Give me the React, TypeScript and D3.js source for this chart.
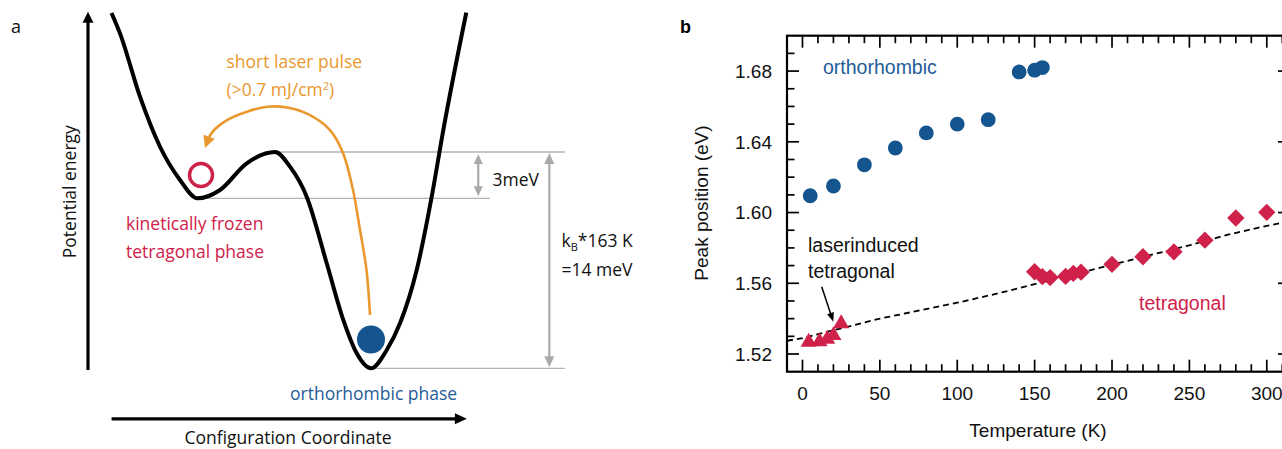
import React from 'react';
import * as d3 from 'd3';

// ---------- Panel b data ----------
const orthoT = [5, 20, 40, 60, 80, 100, 120, 140, 150, 155];
const orthoE = [1.6095, 1.615, 1.627, 1.6365, 1.645, 1.65, 1.6525, 1.6795, 1.6805, 1.682];
const tetraT = [150, 155, 160, 170, 175, 180, 200, 220, 240, 260, 280, 300];
const tetraE = [1.5665, 1.5638, 1.5632, 1.5639, 1.5656, 1.5663, 1.5707, 1.575, 1.5778, 1.5844, 1.5969, 1.6001];
const laserT = [4, 11, 16, 20, 25];
const laserE = [1.5268, 1.527, 1.5285, 1.5305, 1.5372];
const fitT = [-10, 0, 25, 50, 75, 100, 125, 150, 175, 200, 225, 250, 275, 300, 315];
const fitE = [1.5275, 1.529, 1.5345, 1.54, 1.5445, 1.549, 1.554, 1.5595, 1.565, 1.5705, 1.576, 1.5815, 1.5875, 1.5925, 1.595];
const xTickLabels = [0, 50, 100, 150, 200, 250, 300];
const yTickLabels = [1.52, 1.56, 1.6, 1.64, 1.68];

// ---------- Panel a data (schematic potential, meV) ----------
const potQ = [0.618, 0.842, 1.368, 1.895, 2.421, 2.882, 3.474, 4.176, 4.921, 5.316, 5.755, 6.282, 6.718, 7.071, 7.447, 7.861, 8.211, 8.65, 9.045, 9.35, 9.955];
const potE = [23.0, 21.68, 17.58, 14.34, 12.19, 11.0, 11.54, 13.27, 14.0, 13.05, 11.11, 6.8, 3.13, 0.97, 0, 1.18, 2.91, 6.36, 11.11, 15.42, 23.02];
const pulseQ = [7.421, 7.329, 7.158, 6.974, 6.711, 6.368, 5.842, 5.237, 4.711, 4.184, 3.658, 3.342, 3.184, 3.079];
const pulseE = [3.45, 6.36, 8.95, 11.54, 13.94, 15.42, 16.39, 16.88, 16.93, 16.61, 16.07, 15.49, 14.97, 14.26];
const barrier = 3; // meV
const depth = 14; // meV
const tetraState = { q: 2.974, E: 12.51 };
const orthoState = { q: 7.447, E: 1.864 };

const RED = '#cf2149';
const BLUE = '#14558f';
const BLUE_TXT = '#1f5c99';
const ORANGE = '#e9982e';
const GRAY = '#b2b2b2';
const GRAY_ARROW = '#a9a9a9';
const SANS_B = "'Liberation Sans', Arial, Helvetica, sans-serif";
const SANS_A = "'Open Sans', 'Noto Sans', sans-serif";

function head(x1: number, y1: number, x2: number, y2: number, len: number, wid: number) {
  const dx = x2 - x1, dy = y2 - y1;
  const L = Math.hypot(dx, dy);
  const ux = dx / L, uy = dy / L;
  const bx = x2 - ux * len, by = y2 - uy * len;
  const px = -uy, py = ux;
  return `${x2},${y2} ${bx + (px * wid) / 2},${by + (py * wid) / 2} ${bx - (px * wid) / 2},${by - (py * wid) / 2}`;
}

function PanelA() {
  const qx = d3.scaleLinear().domain([0, 10]).range([88, 468]);
  const ey = d3.scaleLinear().domain([0, 14]).range([368.3, 152]);
  const pot = d3.line<number>().x((_, i) => qx(potQ[i])).y((d) => ey(d)).curve(d3.curveMonotoneX)(potE) || '';
  const n = pulseQ.length;
  const pulse = d3
    .line<number>()
    .x((_, i) => qx(pulseQ[i]))
    .y((d) => ey(d))
    .curve(d3.curveCatmullRom)(pulseE.slice(0, n - 1)) || '';
  const pHead = head(qx(pulseQ[n - 2]), ey(pulseE[n - 2]), qx(pulseQ[n - 1]), ey(pulseE[n - 1]), 12, 12);

  const axX = qx(0);
  const axTop = ey(23.07);
  const axBot = ey(-0.11);
  const hY = ey(-3.27);
  const hL = qx(0.62);
  const hR = qx(9.97);

  const refRight = qx(12.55);
  const smallX = qx(10.27);
  const bigX = qx(12.14);
  const yTop = ey(depth);
  const yMid = ey(depth - barrier);
  const yBot = ey(0);

  const dbl = (xx: number, y1: number, y2: number, len: number, wid: number) => (
    <g>
      <line x1={xx} x2={xx} y1={y1 + len - 1} y2={y2 - len + 1} stroke={GRAY_ARROW} strokeWidth={2.2} />
      <polygon points={head(xx, y1 + 10, xx, y1, len, wid)} fill={GRAY_ARROW} />
      <polygon points={head(xx, y2 - 10, xx, y2, len, wid)} fill={GRAY_ARROW} />
    </g>
  );

  return (
    <g fontFamily={SANS_A}>
      <text x={11} y={33} fontSize={18} fill="#111">a</text>
      {/* energy axis */}
      <line x1={axX} x2={axX} y1={axBot} y2={axTop + 10} stroke="#000" strokeWidth={3.2} />
      <polygon points={head(axX, axTop + 20, axX, axTop, 11, 11)} fill="#000" />
      {/* configuration axis */}
      <line x1={hL} x2={hR - 10} y1={hY} y2={hY} stroke="#000" strokeWidth={3.2} />
      <polygon points={head(hR - 20, hY, hR, hY, 12, 11)} fill="#000" />
      <text transform={`translate(${76},${191.7}) rotate(-90)`} textAnchor="middle" fontSize={17.5} fill="#111">
        Potential energy
      </text>
      <text x={288} y={444} textAnchor="middle" fontSize={17.5} fill="#111">Configuration Coordinate</text>

      {/* reference levels */}
      <line x1={qx(4.92)} x2={refRight} y1={yTop} y2={yTop} stroke={GRAY} strokeWidth={1.3} />
      <line x1={qx(2.88)} x2={qx(10.58)} y1={yMid} y2={yMid} stroke={GRAY} strokeWidth={1.3} />
      <line x1={qx(7.45)} x2={refRight} y1={yBot} y2={yBot} stroke={GRAY} strokeWidth={1.3} />
      {dbl(smallX, yTop + 2, yMid - 2, 10, 9)}
      {dbl(bigX, yTop + 1, yBot - 1, 11, 10)}

      {/* potential curve */}
      <path d={pot} fill="none" stroke="#000" strokeWidth={4} strokeLinejoin="round" />

      {/* states */}
      <circle cx={qx(tetraState.q)} cy={ey(tetraState.E)} r={11.5} fill="none" stroke={RED} strokeWidth={3.4} />
      <circle cx={qx(orthoState.q)} cy={ey(orthoState.E)} r={14} fill={BLUE} />

      {/* laser pulse arrow */}
      <path d={pulse} fill="none" stroke={ORANGE} strokeWidth={2.6} />
      <polygon points={pHead} fill={ORANGE} />

      <text x={226.5} y={68} fontSize={17.5} fill={ORANGE}>short laser pulse</text>
      <text x={226.5} y={96} fontSize={17.5} fill={ORANGE}>
        (&gt;0.7 mJ/cm<tspan dy={-6} fontSize={11}>2</tspan>
        <tspan dy={6}>)</tspan>
      </text>
      <text x={126} y={230} fontSize={17.5} fill={RED}>kinetically frozen</text>
      <text x={126} y={257.5} fontSize={17.5} fill={RED}>tetragonal phase</text>
      <text x={290} y={400} fontSize={17.5} fill={BLUE_TXT}>orthorhombic phase</text>
      <text x={492.5} y={186} fontSize={17.5} fill="#111">3meV</text>
      <text x={561.5} y={247} fontSize={17.5} fill="#111">
        k<tspan dy={4} fontSize={11}>B</tspan>
        <tspan dy={-4}>*163 K</tspan>
      </text>
      <text x={561.5} y={276} fontSize={17.5} fill="#111">=14 meV</text>
    </g>
  );
}

function PanelB() {
  const x = d3.scaleLinear().domain([-10, 315]).range([787, 1290]);
  const y = d3.scaleLinear().domain([1.51, 1.7]).range([371.7, 35.7]);
  const [x0, x1] = x.range();
  const [yb, yt] = y.range();
  const xTicks = d3.range(0, 311, 10);
  const yTicks = d3.range(152, 170).map((v) => v / 100);
  const isMajX = (t: number) => t % 50 === 0;
  const isMajY = (v: number) => Math.round(v * 100) % 4 === 0;
  const MAJ = 12, MIN = 7.5;

  const fit = d3.line<number>().x((_, i) => x(fitT[i])).y((d) => y(d))(fitE) || '';
  const diamond = d3.symbol().type(d3.symbolSquare).size(150)() || '';
  const tri = d3.symbol().type(d3.symbolTriangle).size(112)() || '';

  return (
    <g fontFamily={SANS_B}>
      <text x={680} y={33} fontSize={18} fontWeight="bold" fill="#000">b</text>

      {/* fit line */}
      <path d={fit} fill="none" stroke="#000" strokeWidth={1.8} strokeDasharray="6,4" />

      {/* data */}
      {orthoT.map((t, i) => (
        <circle key={'o' + i} cx={x(t)} cy={y(orthoE[i])} r={7.4} fill={BLUE} />
      ))}
      {tetraT.map((t, i) => (
        <path key={'t' + i} d={diamond} transform={`translate(${x(t)},${y(tetraE[i])}) rotate(45)`} fill={RED} />
      ))}
      {laserT.map((t, i) => (
        <path key={'l' + i} d={tri} transform={`translate(${x(t)},${y(laserE[i])})`} fill={RED} />
      ))}

      {/* frame */}
      <rect x={x0} y={yt} width={x1 - x0} height={yb - yt} fill="none" stroke="#000" strokeWidth={2.2} />
      {xTicks.map((t) => {
        const L = isMajX(t) ? MAJ : MIN;
        return (
          <g key={'xt' + t}>
            <line x1={x(t)} x2={x(t)} y1={yb} y2={yb - L} stroke="#000" strokeWidth={1.7} />
            <line x1={x(t)} x2={x(t)} y1={yt} y2={yt + L} stroke="#000" strokeWidth={1.7} />
          </g>
        );
      })}
      {yTicks.map((v) => {
        const L = isMajY(v) ? MAJ : MIN;
        return (
          <g key={'yt' + v}>
            <line x1={x0} x2={x0 + L} y1={y(v)} y2={y(v)} stroke="#000" strokeWidth={1.7} />
            <line x1={x1} x2={x1 - L} y1={y(v)} y2={y(v)} stroke="#000" strokeWidth={1.7} />
          </g>
        );
      })}
      {xTickLabels.map((t) => (
        <text key={'xl' + t} x={x(t)} y={400} textAnchor="middle" fontSize={19} fill="#111">{t}</text>
      ))}
      {yTickLabels.map((v) => (
        <text key={'yl' + v} x={772} y={y(v) + 6.8} textAnchor="end" fontSize={19} fill="#111">{v.toFixed(2)}</text>
      ))}
      <text x={1038} y={437} textAnchor="middle" fontSize={19} fill="#111">Temperature (K)</text>
      <text transform={`translate(${708},${203}) rotate(-90)`} textAnchor="middle" fontSize={19} fill="#111">
        Peak position (eV)
      </text>

      {/* annotations */}
      <text x={823} y={73.5} fontSize={19.5} fill={BLUE_TXT}>orthorhombic</text>
      <text x={1139} y={309.5} fontSize={19.5} fill={RED}>tetragonal</text>
      <text x={808} y={252.3} fontSize={19.5} fill="#111">laserinduced</text>
      <text x={808} y={277.5} fontSize={19.5} fill="#111">tetragonal</text>
      <line x1={821.7} y1={286.7} x2={830.9} y2={314.4} stroke="#000" strokeWidth={1.5} />
      <polygon points={head(821.7, 286.7, 833.3, 321.7, 9, 7)} fill="#000" />
    </g>
  );
}

export default function App() {
  return (
    <svg
      width={1282}
      height={449}
      viewBox="0 0 1282 449"
      style={{ position: 'absolute', left: 0, top: 0, background: '#fff' }}
    >
      <rect width={1282} height={449} fill="#fff" />
      <PanelA />
      <PanelB />
    </svg>
  );
}
